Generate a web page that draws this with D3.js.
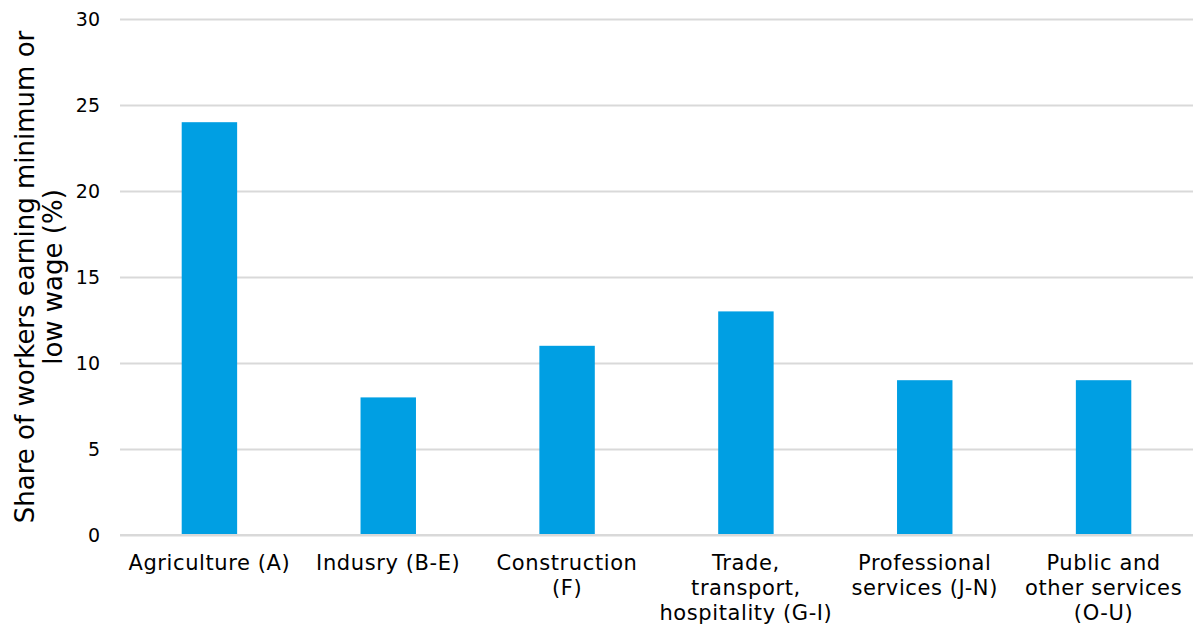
<!DOCTYPE html>
<html>
<head>
<meta charset="utf-8">
<script src="https://cdn.jsdelivr.net/npm/d3@7"></script>
<style>
  html, body { margin: 0; padding: 0; background: #fff; }
  svg { display: block; }
  text { font-family: "DejaVu Sans", "Noto Sans", sans-serif; fill: #000; }
</style>
</head>
<body>
<svg id="chart" width="1202" height="626"></svg>
<script>
// Sector labels (line breaks mark how each label wraps)
const categories = [
  "Agriculture (A)",
  "Indusry (B-E)",
  "Construction\n(F)",
  "Trade,\ntransport,\nhospitality (G-I)",
  "Professional\nservices (J-N)",
  "Public and\nother services\n(O-U)"
];
// Share of workers earning minimum or low wage (%)
const shares = [24, 8, 11, 13, 9, 9];
const yTicks = [0, 5, 10, 15, 20, 25, 30];
const yTitle = ["Share of workers earning minimum or", "low wage (%)"];

const svg = d3.select("#chart");
const margin = { left: 120, right: 9, top: 19, bottom: 91 };
const W = 1202, H = 626;

const x = d3.scaleBand()
  .domain(categories)
  .range([margin.left, W - margin.right])
  .paddingInner(0.69)
  .paddingOuter(0.345);

const y = d3.scaleLinear()
  .domain([0, 30])
  .range([H - margin.bottom, margin.top]);

// Horizontal gridlines with tick labels
const yAxis = d3.axisLeft(y)
  .tickValues(yTicks)
  .tickSize(-(W - margin.left - margin.right))
  .tickPadding(20);

const gy = svg.append("g")
  .attr("transform", `translate(${margin.left},0)`)
  .call(yAxis);
gy.select(".domain").remove();
gy.selectAll(".tick line").attr("stroke", "#d9d9d9").attr("stroke-width", 2);
gy.selectAll(".tick text")
  .style("font-family", "'DejaVu Sans', sans-serif")
  .style("font-size", "19px")
  .attr("fill", "#000")
  .attr("dy", "0.35em");

// Bars
svg.append("g")
  .selectAll("rect")
  .data(categories.map((c, i) => ({ c, v: shares[i] })))
  .join("rect")
  .attr("x", d => x(d.c))
  .attr("width", x.bandwidth())
  .attr("y", d => y(d.v))
  .attr("height", d => y(0) - y(d.v))
  .attr("fill", "#009fe3");

// Baseline redrawn above bars
svg.append("line")
  .attr("x1", margin.left).attr("x2", W - margin.right)
  .attr("y1", y(0)).attr("y2", y(0))
  .attr("stroke", "#d9d9d9").attr("stroke-width", 2);

// Category labels, wrapped
const xl = svg.append("g");
categories.forEach(c => {
  const lines = c.split("\n");
  const t = xl.append("text")
    .attr("text-anchor", "middle")
    .attr("x", x(c) + x.bandwidth() / 2)
    .attr("y", 570)
    .style("font-size", "21px")
    .style("letter-spacing", "0.6px");
  lines.forEach((ln, i) => {
    t.append("tspan")
      .attr("x", x(c) + x.bandwidth() / 2)
      .attr("dy", i === 0 ? 0 : 25)
      .text(ln);
  });
});

// Y axis title (two lines)
const yt = svg.append("text")
  .attr("transform", `translate(34, ${(y(0) + y(30)) / 2}) rotate(-90)`)
  .attr("text-anchor", "middle")
  .style("font-size", "26px");
yTitle.forEach((ln, i) => {
  yt.append("tspan").attr("x", 0).attr("dy", i === 0 ? 0 : 28).text(ln);
});
</script>
</body>
</html>
